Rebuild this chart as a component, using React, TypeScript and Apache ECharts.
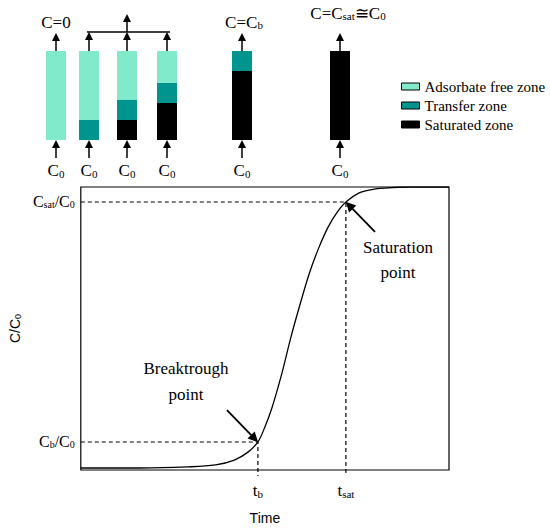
import React, { useEffect, useRef } from "react";
import * as echarts from "echarts";

// ---- Top diagram: column states (fractions of column height, bottom → top) ----
const colPositions = [56, 89, 127, 167, 242, 340];
const saturatedZone = [0, 0, 0.225, 0.416, 0.775, 1];
const transferZone = [0, 0.225, 0.225, 0.225, 0.225, 0];
const freeZone = [1, 0.775, 0.55, 0.359, 0, 0];
const zoneNames = ["Adsorbate free zone", "Transfer zone", "Saturated zone"];
const zoneColors = ["#80EACB", "#00948F", "#000000"];

// ---- Breakthrough curve (time in arbitrary units 0..100, C/C0 0..1) ----
const timeVals = [0, 16, 29, 36.6, 41.7, 45.5, 48.1, 50.0, 51.9, 54.5, 57.0, 59.5, 62.1, 64.6, 67.2, 69.7, 72.0, 75.6, 79.0, 82.4, 89.3, 100];
const concVals = [0.007, 0.007, 0.011, 0.018, 0.035, 0.064, 0.099, 0.152, 0.219, 0.336, 0.466, 0.583, 0.696, 0.784, 0.859, 0.912, 0.947, 0.979, 0.991, 0.996, 1.0, 1.0];
const tBreak = 48.1;
const cBreak = 0.099;
const tSat = 72.0;
const cSat = 0.947;

export default function App() {
  const ref = useRef<HTMLDivElement>(null);
  useEffect(() => {
    document.body.style.margin = "0";
    const chart = echarts.init(ref.current!, null, { renderer: "svg" });
    const serif = "'Liberation Serif', 'Times New Roman', 'DejaVu Serif', serif";
    const sans = "'Liberation Sans', Arial, sans-serif";
    const rich = (big: number, small: number, fam = serif) => ({
      c: { fontFamily: fam, fontSize: big, color: "#000", verticalAlign: "bottom" },
      s: { fontFamily: fam, fontSize: small, color: "#000", verticalAlign: "bottom" },
    });

    const arrowLine = { color: "#000", width: 1.5, opacity: 1, curveness: 0 };

    // cumulative tops of each zone (drawn as overlapping bars, back to front)
    const satTop = saturatedZone;
    const transTop = saturatedZone.map((s, i) => s + transferZone[i]);
    const freeTop = transTop.map((t, i) => t + freeZone[i]);

    const barBase = {
      type: "bar", xAxisIndex: 1, yAxisIndex: 1, barWidth: 20, barGap: "-100%", silent: true,
    };

    const option: any = {
      animation: false,
      backgroundColor: "#fff",
      grid: [
        { left: 56, top: 187, width: 393, height: 283, show: true, borderColor: "#000", borderWidth: 1.2, backgroundColor: "transparent" },
        { left: 0, top: 51, width: 550, height: 89 },
      ],
      legend: {
        orient: "vertical",
        left: 396,
        top: 74,
        itemWidth: 18,
        itemHeight: 7,
        itemGap: 4,
        icon: "rect",
        selectedMode: false,
        data: zoneNames,
        itemStyle: { borderColor: "#000", borderWidth: 1 },
        textStyle: { fontFamily: serif, fontSize: 15, color: "#000" },
      },
      xAxis: [
        {
          type: "value", gridIndex: 0, min: 0, max: 100,
          splitLine: { show: false }, axisLine: { show: false }, axisTick: { show: false },
          axisLabel: {
            customValues: [tBreak, tSat],
            margin: 12,
            formatter: (v: number) => (v === tBreak ? "{c|t}{s|b}" : "{c|t}{s|sat}"),
            rich: rich(17, 11),
          },
          name: "Time", nameLocation: "middle", nameGap: 41,
          nameTextStyle: { fontFamily: sans, fontSize: 14, color: "#000" },
        },
        {
          type: "value", gridIndex: 1, min: 0, max: 550,
          splitLine: { show: false }, axisLine: { show: false }, axisTick: { show: false },
          axisLabel: {
            customValues: colPositions,
            margin: 22,
            formatter: () => "{c|C}{s|0}",
            rich: rich(17, 11),
          },
        },
      ],
      yAxis: [
        {
          type: "value", gridIndex: 0, min: 0, max: 1,
          splitLine: { show: false }, axisLine: { show: false }, axisTick: { show: false },
          axisLabel: {
            customValues: [cBreak, cSat],
            margin: 6,
            formatter: (v: number) => (v === cBreak ? "{c|C}{s|b}{c|/C}{s|0}" : "{c|C}{s|sat}{c|/C}{s|0}"),
            rich: rich(16, 10),
          },
          name: "{c|C/C}{s|0}", nameLocation: "middle", nameGap: 20,
          nameTextStyle: { rich: rich(14, 9, sans) },
        },
        { type: "value", gridIndex: 1, min: 0, max: 1, show: false },
      ],
      graphic: [
        { type: "text", style: { text: "{c|C=0}", x: 56, y: 22, align: "center", verticalAlign: "middle", rich: rich(17, 11) } },
        { type: "text", style: { text: "{c|C=C}{s|b}", x: 244, y: 22, align: "center", verticalAlign: "middle", rich: rich(17, 11) } },
        { type: "text", style: { text: "{c|C=C}{s|sat}{c|≅C}{s|0}", x: 348, y: 13, align: "center", verticalAlign: "middle", rich: rich(17, 11) } },
        { type: "text", style: { text: "Breaktrough\npoint", x: 186, y: 381, align: "center", verticalAlign: "middle", font: `17px ${serif}`, lineHeight: 26, fill: "#000" } },
        { type: "text", style: { text: "Saturation\npoint", x: 398, y: 260, align: "center", verticalAlign: "middle", font: `17px ${serif}`, lineHeight: 25, fill: "#000" } },
      ],
      series: [
        {
          ...barBase, name: zoneNames[0], itemStyle: { color: zoneColors[0] },
          data: colPositions.map((x, i) => [x, freeTop[i]]),
        },
        {
          ...barBase, name: zoneNames[1], itemStyle: { color: zoneColors[1] },
          data: colPositions.map((x, i) => [x, transTop[i]]),
        },
        {
          ...barBase, name: zoneNames[2], itemStyle: { color: zoneColors[2] },
          data: colPositions.map((x, i) => [x, satTop[i]]),
        },
        // arrows of the column diagram
        {
          type: "lines", coordinateSystem: "cartesian2d", xAxisIndex: 1, yAxisIndex: 1, silent: true, clip: false,
          symbol: ["none", "triangle"], symbolSize: 8, lineStyle: arrowLine,
          data: [
            ...colPositions.map((x) => ({ coords: [[x, -0.202], [x, -0.045]] })),
            { coords: [[colPositions[0], 1], [colPositions[0], 1.157]] },
            { coords: [[colPositions[1], 1], [colPositions[1], 1.169]] },
            { coords: [[colPositions[2], 1], [colPositions[2], 1.169]] },
            { coords: [[colPositions[3], 1], [colPositions[3], 1.169]] },
            { coords: [[colPositions[2], 1.213], [colPositions[2], 1.371]] },
            { coords: [[colPositions[4], 1], [colPositions[4], 1.157]] },
            { coords: [[colPositions[5], 1], [colPositions[5], 1.157]] },
          ],
        },
        {
          type: "lines", coordinateSystem: "cartesian2d", xAxisIndex: 1, yAxisIndex: 1, silent: true, clip: false,
          symbol: "none", lineStyle: arrowLine,
          data: [{ coords: [[colPositions[1] - 2, 1.213], [colPositions[3] + 3, 1.213]] }],
        },
        // breakthrough curve
        {
          type: "line", xAxisIndex: 0, yAxisIndex: 0, smooth: 0.35, showSymbol: false, silent: true,
          lineStyle: { color: "#000", width: 1.3 },
          data: timeVals.map((t, i) => [t, concVals[i]]),
        },
        // dashed guides
        {
          type: "line", xAxisIndex: 0, yAxisIndex: 0, showSymbol: false, silent: true, clip: false,
          lineStyle: { color: "#000", width: 1.2, type: [4, 3] },
          data: [[0, cBreak], [tBreak, cBreak], [tBreak, -0.021]],
        },
        {
          type: "line", xAxisIndex: 0, yAxisIndex: 0, showSymbol: false, silent: true, clip: false,
          lineStyle: { color: "#000", width: 1.2, type: [4, 3] },
          data: [[0, cSat], [tSat, cSat], [tSat, -0.021]],
        },
        // annotation arrows
        {
          type: "lines", coordinateSystem: "cartesian2d", xAxisIndex: 0, yAxisIndex: 0, silent: true, clip: false,
          symbol: ["none", "triangle"], symbolSize: 10, lineStyle: { ...arrowLine, width: 1.8 },
          data: [
            { coords: [[39.7, 0.212], [47.2, 0.111]] },
            { coords: [[79.9, 0.841], [72.9, 0.935]] },
          ],
        },
      ],
    };
    chart.setOption(option);
    return () => chart.dispose();
  }, []);
  return <div ref={ref} style={{ width: 550, height: 530 }} />;
}
